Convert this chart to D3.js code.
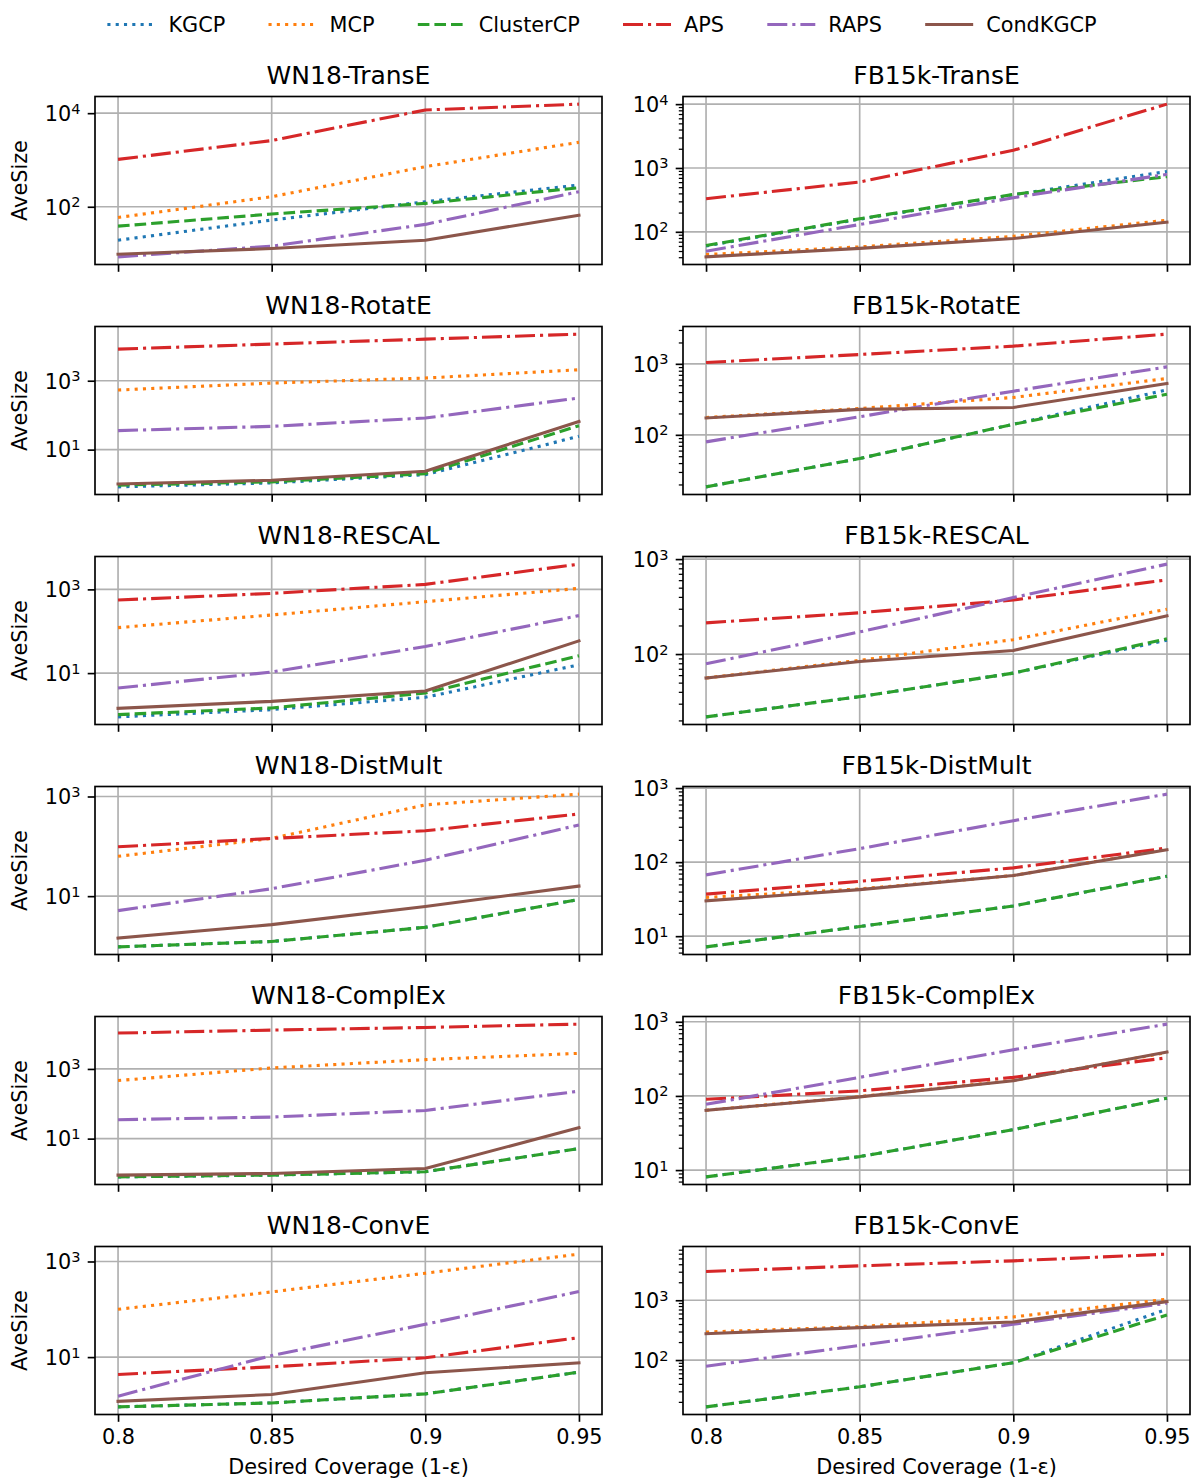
<!DOCTYPE html>
<html><head><meta charset="utf-8">
<script src="https://cdn.jsdelivr.net/npm/d3@7"></script>
<style>body{margin:0;background:#fff;} svg{display:block;font-family:"DejaVu Sans",sans-serif;}</style>
</head><body><svg id="c" width="1195" height="1479"></svg>
<script>
// ---------------- data ----------------
const coverage = [0.8, 0.85, 0.9, 0.95];
const xTickLabels = ["0.8", "0.85", "0.9", "0.95"];
const methods = ["KGCP", "MCP", "ClusterCP", "APS", "RAPS", "CondKGCP"];
const models = ["TransE", "RotatE", "RESCAL", "DistMult", "ComplEx", "ConvE"];
const datasets = ["WN18", "FB15k"];
// each panel: rows in methods order, values at coverage points
const wn18TransE = [[19.3,52,128,291],[59,164,720,2390],[38.5,70,118,255],[1030,2600,11700,15600],[8.5,14.4,42,210],[9.7,12.8,19.3,66]];
const fb15kTransE = [[60,158,380,880],[44,58,85,152],[61,160,385,731],[330,603,1890,10000],[49.7,130,342,795],[40.5,55,78.5,142]];
const wn18RotatE = [[0.83,1.08,1.88,24.3],[536,855,1195,2080],[0.93,1.16,2.01,49.6],[8280,11600,16100,22500],[35.6,47.4,82.8,315],[1.01,1.29,2.36,66]];
const fb15kRotatE = [[18.5,46.4,141,430],[175,235,336,622],[18.5,46.4,141,374],[1045,1353,1775,2620],[79.6,180,412,907],[173,228,243,528]];
const wn18RESCAL = [[0.9,1.34,2.64,15.8],[122,245,508,1057],[1.02,1.47,3.34,25.9],[557,803,1316,4010],[4.4,10.6,43.2,236],[1.44,2.11,3.73,58.9]];
const fb15kRESCAL = [[21.8,35.6,63,140],[56,85.8,142,297],[21.8,35.6,63,145],[213,272,371,604],[79,171,393,885],[56,83.6,109,253]];
const wn18DistMult = [[0.96,1.23,2.37,8.57],[63,144,680,1115],[0.96,1.23,2.37,8.57],[97.7,144,205,447],[5.13,14.1,52.6,268],[1.44,2.68,6.18,15.9]];
const fb15kDistMult = [[7.17,13.5,25.6,64.6],[33.4,43.4,65.9,149],[7.17,13.5,25.6,64.6],[37,55,83.7,155],[67.3,152,363,828],[30,42.5,65.9,147]];
const wn18ComplEx = [[0.8,0.9,1.12,5.18],[464,1068,1848,2800],[0.8,0.9,1.12,5.18],[10700,13000,15500,19300],[34.9,41.6,64.5,230],[0.9,1.0,1.39,20.6]];
const fb15kComplEx = [[8.1,15.2,35.1,93],[64,98,162,385],[8.1,15.2,35.1,93],[90,117,178,327],[77,178,420,929],[63.8,97,160,390]];
const wn18ConvE = [[0.91,1.1,1.7,4.84],[100,231,569,1425],[0.91,1.1,1.7,4.84],[4.33,6.27,9.68,25.5],[1.52,10.8,48.5,235],[1.19,1.65,4.69,7.6]];
const fb15kConvE = [[16.5,35.7,90.2,706],[294,362,526,1040],[16.5,35.7,90.2,567],[3020,3760,4560,5900],[79,176,396,891],[276,348,433,950]];
const panelData = [
  [wn18TransE, fb15kTransE], [wn18RotatE, fb15kRotatE], [wn18RESCAL, fb15kRESCAL],
  [wn18DistMult, fb15kDistMult], [wn18ComplEx, fb15kComplEx], [wn18ConvE, fb15kConvE]
];

// ---------------- styles ----------------
const colors = ["#1f77b4", "#ff7f0e", "#2ca02c", "#d62728", "#9467bd", "#8c564b"];
const dashes = ["3.1,5.2", "3.1,5.2", "11.6,5", "20,5,3.1,5", "20,5,3.1,5", null];
const LW = 3.1;
const FS = 20.8, TFS = 25;
const colX = [95, 683], PW = 507;
const rowY0 = 96.5, rowPitch = 230, PH = 168;

const svg = d3.select("#c");
svg.append("rect").attr("width", 1195).attr("height", 1479).attr("fill", "#fff");

function logTicks(lo, hi) {
  const numdec = Math.floor(hi) - Math.ceil(lo);
  const stride = Math.max(Math.ceil(numdec / 2), 1);
  const majors = [];
  for (let d = Math.floor(lo) - stride; d <= Math.ceil(hi) + 2 * stride; d += stride) {
    if (d >= lo - 1e-9 && d <= hi + 1e-9) majors.push(d);
  }
  const minors = [];
  if (stride === 1) {
    for (let d = Math.floor(lo) - 1; d <= Math.ceil(hi); d++) {
      for (let k = 2; k <= 9; k++) {
        const v = Math.log10(k) + d;
        if (v >= lo && v <= hi) minors.push(Math.pow(10, v));
      }
    }
  }
  return { majors, minors };
}

function supLabel(sel, exp) {
  sel.text(null);
  sel.append("tspan").text("10");
  sel.append("tspan").attr("dy", "-0.5em").attr("font-size", FS * 0.7).text(String(exp));
}

panelData.forEach((row, ri) => {
  row.forEach((series, ci) => {
    const x0 = colX[ci], y0 = rowY0 + ri * rowPitch;
    const g = svg.append("g");
    const all = series.flat();
    const lmin = Math.log10(d3.min(all)), lmax = Math.log10(d3.max(all));
    const pad = (lmax - lmin) * 0.05;
    const lo = lmin - pad, hi = lmax + pad;
    const y = d3.scaleLog().domain([Math.pow(10, lo), Math.pow(10, hi)]).range([y0 + PH, y0]);
    const xpad = (coverage[3] - coverage[0]) * 0.05;
    const x = d3.scaleLinear().domain([coverage[0] - xpad, coverage[3] + xpad]).range([x0, x0 + PW]);
    const { majors, minors } = logTicks(lo, hi);
    const majorVals = majors.map(d => Math.pow(10, d));

    // grid
    g.selectAll(".gx").data(coverage).enter().append("line")
      .attr("x1", d => x(d)).attr("x2", d => x(d)).attr("y1", y0).attr("y2", y0 + PH)
      .attr("stroke", "#b0b0b0").attr("stroke-width", 1.67);
    g.selectAll(".gy").data(majorVals).enter().append("line")
      .attr("x1", x0).attr("x2", x0 + PW).attr("y1", d => y(d)).attr("y2", d => y(d))
      .attr("stroke", "#b0b0b0").attr("stroke-width", 1.67);

    // lines
    const line = d3.line().x((d, i) => x(coverage[i])).y(d => y(d));
    series.forEach((vals, mi) => {
      const p = g.append("path").datum(vals).attr("d", line)
        .attr("fill", "none").attr("stroke", colors[mi]).attr("stroke-width", LW)
        .attr("stroke-linejoin", "round");
      if (dashes[mi]) p.attr("stroke-dasharray", dashes[mi]).attr("stroke-linecap", "butt");
      else p.attr("stroke-linecap", "square");
    });

    // axes
    const yAxis = d3.axisLeft(y).tickValues(majorVals).tickSize(7.3).tickPadding(7.3).tickFormat("");
    const ya = g.append("g").attr("transform", `translate(${x0},0)`).call(yAxis);
    ya.select(".domain").remove();
    ya.selectAll(".tick line").attr("stroke", "#000").attr("stroke-width", 1.67);
    ya.selectAll(".tick text").attr("font-size", FS).attr("fill", "#000")
      .attr("font-family", "DejaVu Sans").attr("dy", "0.35em")
      .each(function (d) { supLabel(d3.select(this), Math.round(Math.log10(d))); });
    const yMinor = d3.axisLeft(y).tickValues(minors).tickSize(4.2).tickFormat("");
    const ym = g.append("g").attr("transform", `translate(${x0},0)`).call(yMinor);
    ym.select(".domain").remove();
    ym.selectAll(".tick line").attr("stroke", "#000").attr("stroke-width", 1.25);

    const xAxis = d3.axisBottom(x).tickValues(coverage).tickSize(7.3).tickPadding(7.3)
      .tickFormat((d, i) => ri === 5 ? xTickLabels[i] : "");
    const xa = g.append("g").attr("transform", `translate(0,${y0 + PH})`).call(xAxis);
    xa.select(".domain").remove();
    xa.selectAll(".tick line").attr("stroke", "#000").attr("stroke-width", 1.67);
    xa.selectAll(".tick text").attr("font-size", FS).attr("fill", "#000").attr("font-family", "DejaVu Sans");

    // frame
    g.append("rect").attr("x", x0).attr("y", y0).attr("width", PW).attr("height", PH)
      .attr("fill", "none").attr("stroke", "#000").attr("stroke-width", 1.67);

    // title
    g.append("text").attr("x", x0 + PW / 2).attr("y", y0 - 12.5).attr("text-anchor", "middle")
      .attr("font-size", TFS).text(`${datasets[ci]}-${models[ri]}`);

    if (ci === 0) {
      g.append("text").attr("transform", `translate(${27},${y0 + PH / 2}) rotate(-90)`)
        .attr("text-anchor", "middle").attr("font-size", FS).text("AveSize");
    }
    if (ri === 5) {
      g.append("text").attr("x", x0 + PW / 2).attr("y", 1474).attr("text-anchor", "middle")
        .attr("font-size", FS).text("Desired Coverage (1-ε)");
    }
  });
});

// legend
const lg = svg.append("g");
const handleLen = 48, handlePad = 13, colSpace = 43.3;
const items = methods.map((m, i) => {
  const t = lg.append("text").attr("font-size", FS).attr("y", 32).text(m);
  return { t, w: t.node().getComputedTextLength(), i };
});
const total = d3.sum(items, d => handleLen + handlePad + d.w) + colSpace * (items.length - 1);
let cx = 602 - total / 2;
items.forEach(d => {
  const l = lg.append("line").attr("x1", cx).attr("x2", cx + handleLen).attr("y1", 24.5).attr("y2", 24.5)
    .attr("stroke", colors[d.i]).attr("stroke-width", LW);
  if (dashes[d.i]) l.attr("stroke-dasharray", dashes[d.i]);
  d.t.attr("x", cx + handleLen + handlePad);
  cx += handleLen + handlePad + d.w + colSpace;
});
</script></body></html>
